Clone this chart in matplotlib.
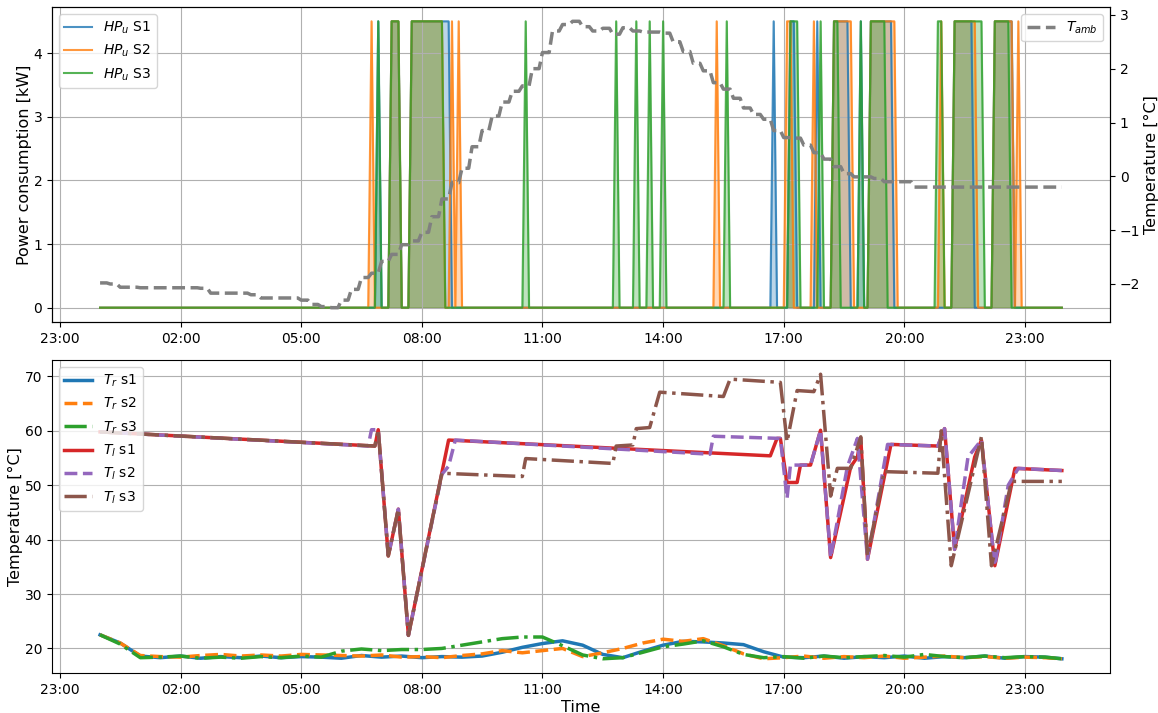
import numpy as np
import pandas as pd
import matplotlib
matplotlib.use("Agg")
import matplotlib.pyplot as plt
import matplotlib.dates as mdates

day = "2021-01-15"
P_ON = 4.5  # heat pump power when running [kW]

# 5-minute simulation grid
t = pd.date_range(f"{day} 00:00", f"{day} 23:55", freq="5min")

# heat pump running periods (start, end inclusive) per scenario
hp_s1_on = [("06:55", "06:55"), ("07:15", "07:25"), ("07:45", "08:40"), ("16:45", "16:45"),
            ("17:10", "17:15"), ("17:50", "17:50"), ("18:15", "18:35"), ("18:55", "18:55"),
            ("19:10", "19:40"), ("21:15", "21:40"), ("22:15", "22:40")]
hp_s2_on = [("06:45", "06:45"), ("07:15", "07:25"), ("07:45", "08:30"), ("08:45", "08:45"),
            ("08:55", "08:55"), ("15:20", "15:20"), ("17:05", "17:10"), ("17:45", "17:45"),
            ("18:15", "18:40"), ("19:10", "19:45"), ("20:55", "20:55"), ("21:15", "21:45"),
            ("22:15", "22:40"), ("22:50", "22:50")]
hp_s3_on = [("06:55", "06:55"), ("07:15", "07:25"), ("07:45", "08:30"), ("10:35", "10:35"),
            ("12:50", "12:50"), ("13:20", "13:20"), ("13:40", "13:40"), ("14:00", "14:00"),
            ("15:35", "15:35"), ("17:10", "17:20"), ("17:55", "17:55"), ("18:15", "18:20"),
            ("18:55", "18:55"), ("19:10", "19:30"), ("20:50", "20:55"), ("21:15", "21:55"),
            ("22:15", "22:35")]

# ambient temperature, 15-minute values [°C]
t_amb_15 = [-1.98, -2.00, -2.06, -2.06, -2.07, -2.07, -2.07, -2.07,
            -2.07, -2.07, -2.08, -2.17, -2.17, -2.17, -2.17, -2.20,
            -2.26, -2.26, -2.26, -2.26, -2.30, -2.38, -2.42, -2.44,
            -2.30, -2.10, -1.88, -1.80, -1.58, -1.45, -1.27, -1.20,
            -1.04, -0.75, -0.42, -0.12, 0.15, 0.55, 0.85, 1.12,
            1.38, 1.58, 1.68, 2.00, 2.30, 2.70, 2.82, 2.88,
            2.78, 2.70, 2.75, 2.64, 2.76, 2.70, 2.68, 2.68,
            2.66, 2.50, 2.32, 2.10, 1.96, 1.74, 1.62, 1.45,
            1.27, 1.15, 1.06, 0.85, 0.72, 0.71, 0.58, 0.44,
            0.32, 0.18, 0.05, -0.01, -0.01, -0.04, -0.10, -0.10,
            -0.10, -0.20, -0.20, -0.20, -0.20, -0.20, -0.20, -0.20,
            -0.20, -0.20, -0.20, -0.20, -0.20, -0.20, -0.20, -0.20]

# return temperatures, 30-minute values plus last step [°C]
t_ret = pd.date_range(f"{day} 00:00", periods=48, freq="30min").append(
    pd.DatetimeIndex([pd.Timestamp(f"{day} 23:55")]))
tr_s1 = [22.5, 21.0, 18.6, 18.3, 18.6, 18.2, 18.5, 18.3, 18.6, 18.3, 18.5, 18.4,
         18.2, 18.7, 18.4, 18.6, 18.3, 18.5, 18.4, 18.6, 19.3, 20.2, 20.9, 21.4,
         20.6, 18.9, 18.3, 19.5, 20.6, 21.3, 21.2, 21.0, 20.7, 19.4, 18.4, 18.3,
         18.6, 18.2, 18.5, 18.3, 18.6, 18.2, 18.5, 18.3, 18.6, 18.2, 18.5, 18.4, 18.1]
tr_s2 = [22.5, 21.0, 18.7, 18.5, 18.4, 18.7, 18.9, 18.6, 18.8, 18.6, 18.9, 18.8,
         18.7, 18.6, 18.8, 18.4, 18.5, 18.3, 18.7, 19.0, 19.6, 19.2, 19.6, 20.0,
         18.5, 19.2, 20.0, 21.0, 21.7, 21.3, 21.8, 20.5, 19.0, 18.1, 18.3, 18.6,
         18.2, 18.5, 18.3, 18.6, 18.2, 18.4, 18.6, 18.3, 18.5, 18.2, 18.4, 18.3, 18.1]
tr_s3 = [22.5, 20.8, 18.3, 18.4, 18.6, 18.2, 18.4, 18.2, 18.5, 18.3, 18.6, 18.4,
         19.5, 19.9, 19.6, 19.8, 19.8, 20.0, 20.6, 21.2, 21.8, 22.1, 22.1, 20.5,
         18.8, 18.1, 18.3, 19.3, 20.3, 20.8, 21.4, 20.3, 18.9, 18.3, 18.5, 18.2,
         18.6, 18.3, 18.5, 18.7, 18.4, 18.9, 18.5, 18.3, 18.6, 18.3, 18.5, 18.4, 18.1]

# supply temperatures at change points [°C]
tl_s1_time = ["00:00", "06:50", "06:55", "07:10", "07:25", "07:40", "08:40", "16:40",
              "16:50", "16:55", "17:05", "17:20", "17:25", "17:40", "17:55", "18:10",
              "18:40", "18:50", "18:55", "19:05", "19:40", "20:50", "21:00", "21:15",
              "21:45", "21:55", "22:15", "22:45", "23:55"]
tl_s1 = [59.8, 57.2, 60.2, 37.0, 45.6, 22.4, 58.3, 55.4,
         58.6, 58.6, 50.5, 50.5, 53.7, 53.7, 60.1, 36.7,
         53.4, 55.2, 58.6, 36.4, 57.5, 57.2, 60.4, 38.2,
         55.2, 58.3, 35.2, 53.1, 52.7]
tl_s2_time = ["00:00", "06:40", "06:45", "06:55", "07:10", "07:25", "07:40", "08:30",
              "08:40", "08:50", "15:10", "15:15", "16:55", "17:05", "17:10", "17:40",
              "17:55", "18:10", "18:35", "18:50", "19:05", "19:35", "20:50", "21:00",
              "21:15", "21:35", "21:55", "22:15", "22:35", "22:50", "23:55"]
tl_s2 = [59.8, 57.2, 60.2, 60.2, 37.0, 45.6, 22.4, 52.0,
         53.5, 58.3, 55.7, 59.0, 58.6, 47.6, 53.7, 53.7,
         60.1, 36.7, 53.4, 58.6, 36.4, 57.5, 57.2, 60.4,
         38.2, 55.2, 58.3, 35.2, 50.0, 53.1, 52.7]
tl_s3_time = ["00:00", "06:50", "06:55", "07:10", "07:25", "07:40", "08:30", "10:30",
              "10:35", "12:45", "12:50", "13:15", "13:20", "13:40", "13:55", "15:30",
              "15:40", "16:55", "17:05", "17:20", "17:45", "17:55", "18:10", "18:20",
              "18:40", "18:55", "19:05", "19:30", "20:50", "20:55", "21:10", "21:55",
              "22:10", "22:40", "23:55"]
tl_s3 = [59.8, 57.2, 60.2, 37.0, 45.6, 22.4, 52.2, 51.6,
         54.9, 54.0, 57.2, 57.4, 60.4, 60.6, 67.1, 66.3,
         69.5, 68.9, 58.0, 67.4, 67.2, 70.4, 48.0, 53.1,
         53.1, 58.9, 37.0, 52.5, 52.2, 60.0, 35.2, 58.9,
         35.2, 50.7, 50.7]


def power_profile(periods):
    p = pd.Series(0.0, index=t)
    for start, end in periods:
        p[f"{day} {start}":f"{day} {end}"] = P_ON
    return p


def to_time(times):
    return pd.to_datetime([f"{day} {s}" for s in times])


plt.rcParams["axes.labelsize"] = 11.5

fig = plt.figure(figsize=(11.58, 7.13), dpi=100)
ax1 = fig.add_axes([0.0449, 0.5484, 0.9136, 0.4418])
ax3 = fig.add_axes([0.0449, 0.0561, 0.9136, 0.4390])

# heat pump power
for periods, c, lab in [(hp_s1_on, "C0", "$HP_u$ S1"),
                        (hp_s2_on, "C1", "$HP_u$ S2"),
                        (hp_s3_on, "C2", "$HP_u$ S3")]:
    p = power_profile(periods)
    ax1.plot(t, p, color=c, lw=1.5, alpha=0.8, label=lab)
    ax1.fill_between(t, 0, p.values, color=c, alpha=0.3)
ax1.set_ylabel("Power consumption [kW]", labelpad=1)
ax1.grid(True)
ax1.legend(loc="upper left")

ax2 = ax1.twinx()
t_amb = np.repeat(t_amb_15, 3)
ax2.plot(t, t_amb, color="grey", ls="--", lw=2.5, label="$T_{amb}$")
ax2.set_ylabel("Temperature [°C]", labelpad=3)
ax2.legend(loc="upper right")

# supply / return temperatures
ax3.plot(t_ret, tr_s1, color="C0", ls="-", lw=2.5, label="$T_r$ s1")
ax3.plot(t_ret, tr_s2, color="C1", ls="--", lw=2.5, label="$T_r$ s2")
ax3.plot(t_ret, tr_s3, color="C2", ls="-.", lw=2.5, label="$T_r$ s3")
ax3.plot(to_time(tl_s1_time), tl_s1, color="C3", ls="-", lw=2.5, label="$T_l$ s1")
ax3.plot(to_time(tl_s2_time), tl_s2, color="C4", ls="--", lw=2.5, label="$T_l$ s2")
ax3.plot(to_time(tl_s3_time), tl_s3, color="C5", ls="-.", lw=2.5, label="$T_l$ s3")
ax3.set_ylabel("Temperature [°C]", labelpad=1)
ax3.set_xlabel("Time", labelpad=2)
ax3.grid(True)
ax3.legend(loc="upper left")

for ax in (ax1, ax3):
    ax.xaxis.set_major_locator(mdates.HourLocator(byhour=[23, 2, 5, 8, 11, 14, 17, 20]))
    ax.xaxis.set_major_formatter(mdates.DateFormatter("%H:%M"))

fig.savefig("out.png", dpi=100)
